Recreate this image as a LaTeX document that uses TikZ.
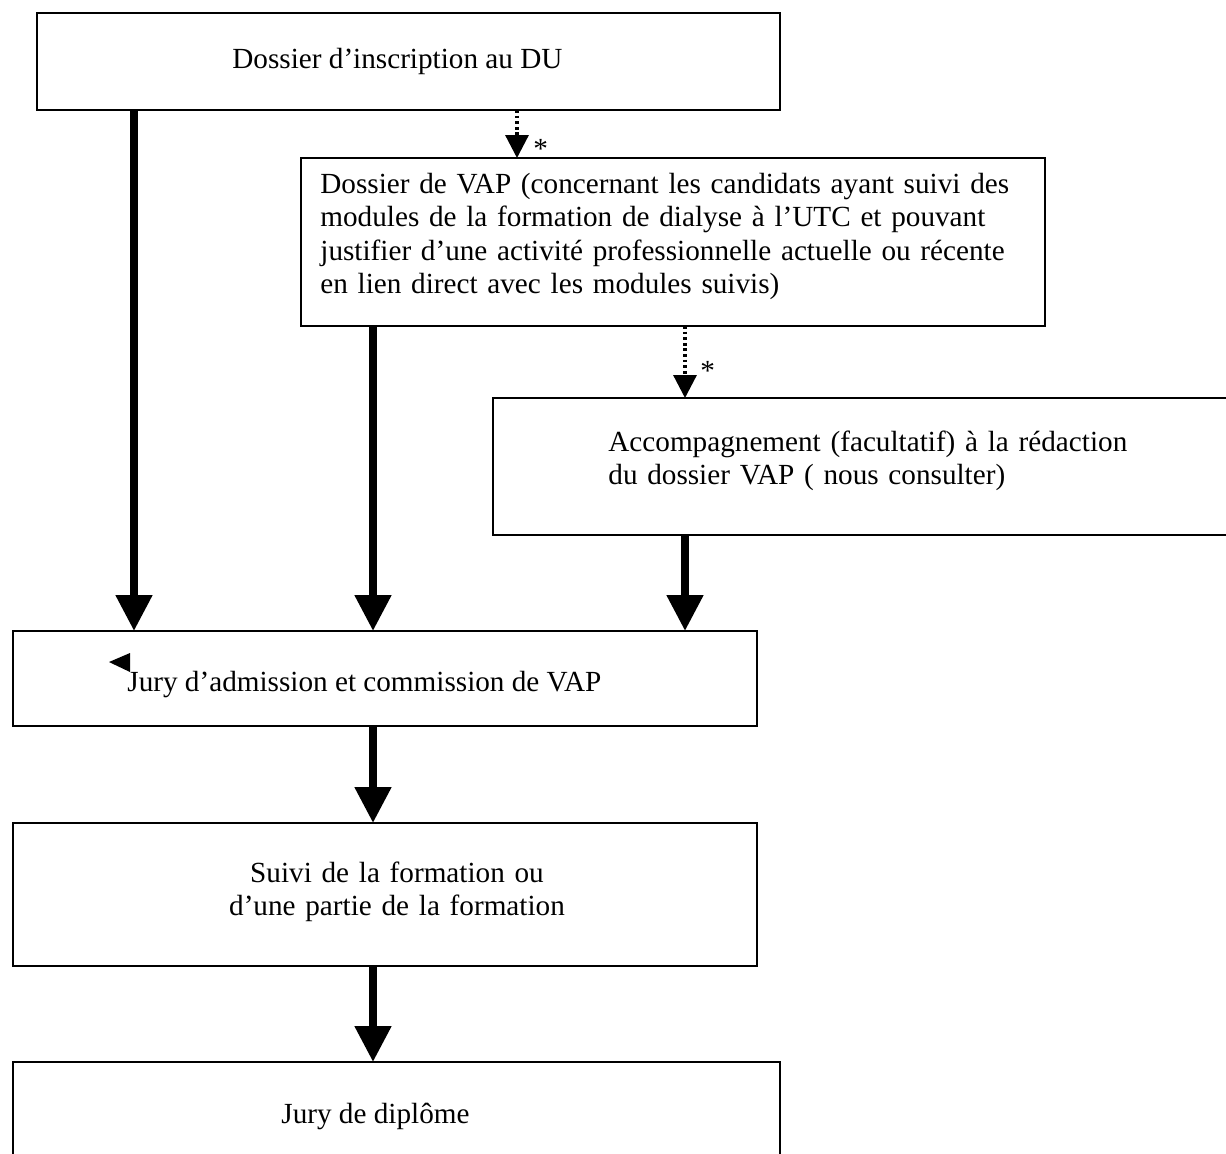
\documentclass[tikz,border=0pt]{standalone}
\usepackage{fontspec}
\setmainfont{Liberation Serif}
\usetikzlibrary{arrows.meta}

\begin{document}
\begin{tikzpicture}[x=0.5pt, y=-0.5pt,
    boite/.style={draw, line width=0.65pt, inner sep=0pt, outer sep=0pt},
    texte/.style={inner sep=0pt, font=\fontsize{14.6pt}{16.8pt}\selectfont},
    fleche/.style={line width=4pt, -{Triangle[width=17.5pt,length=18pt]}},
    pointille/.style={line width=1.6pt, dash pattern=on 1.4pt off 1.4pt,
        -{Triangle[width=11.5pt,length=11.5pt]}}]

\def \px {0.5pt}
\useasboundingbox (0,0) rectangle (1226,1153);

% columns of the arrows
\coordinate (c1) at (134,0);
\coordinate (c2) at (373,0);
\coordinate (c3) at (685,0);
\coordinate (c4) at (517,0);

    \node[boite, minimum width={743*\px}, minimum height={97*\px}] (dossier) at (408.5,61.5) {};
    \node[boite, minimum width={744*\px}, minimum height={168*\px}] (vap) at (673,242) {};
    \node[boite, minimum width={747*\px}, minimum height={137*\px}] (accomp) at (866.5,466.5) {};
    \node[boite, minimum width={744*\px}, minimum height={95*\px}] (jury) at (385,678.5) {};
    \node[boite, minimum width={744*\px}, minimum height={143*\px}] (suivi) at (385,894.5) {};
    \node[boite, minimum width={767*\px}, minimum height={113*\px}] (diplome) at (396.5,1118.5) {};

    \node[texte, anchor=base west] (t-dossier) at (232,68) {Dossier d’inscription au DU};
    \node[texte, anchor=base west, text width={720*\px}, align=left] (t-vap) at (320,193)
        {Dossier de VAP (concernant les candidats ayant suivi des\\
         modules de la formation de dialyse à l’UTC et pouvant\\
         justifier d’une activité professionnelle actuelle ou récente\\
         en lien direct avec les modules suivis)};
    \node[texte, anchor=base west, text width={600*\px}, align=left] (t-accomp) at (608,451)
        {Accompagnement (facultatif) à la rédaction\\
         du dossier VAP ( nous consulter)};
    \node[texte, anchor=base west] (t-jury) at (127,691) {Jury d’admission et commission de VAP};
    \node[texte, anchor=base, text width={400*\px}, align=center] (t-suivi) at (397,882)
        {Suivi de la formation ou\\ d’une partie de la formation};
    \node[texte, anchor=base west] (t-diplome) at (281,1123) {Jury de diplôme};

\draw[fleche] (dossier.south -| c1) -- (jury.north -| c1);
\draw[fleche] (vap.south -| c2) -- (jury.north -| c2);
\draw[fleche] (accomp.south -| c3) -- (jury.north -| c3);
\draw[pointille] (dossier.south -| c4) -- (vap.north -| c4);
\draw[pointille] (vap.south -| c3) -- (accomp.north -| c3);
\draw[fleche] (jury.south -| c2) -- (suivi.north -| c2);
\draw[fleche] (suivi.south -| c2) -- (diplome.north -| c2);

    \node[texte, anchor=base west] (e1) at (533,158) {*};
    \node[texte, anchor=base west] (e2) at (700,380) {*};
\fill (130,653) -- (109,662) -- (130,672) -- cycle;
\end{tikzpicture}
\end{document}
